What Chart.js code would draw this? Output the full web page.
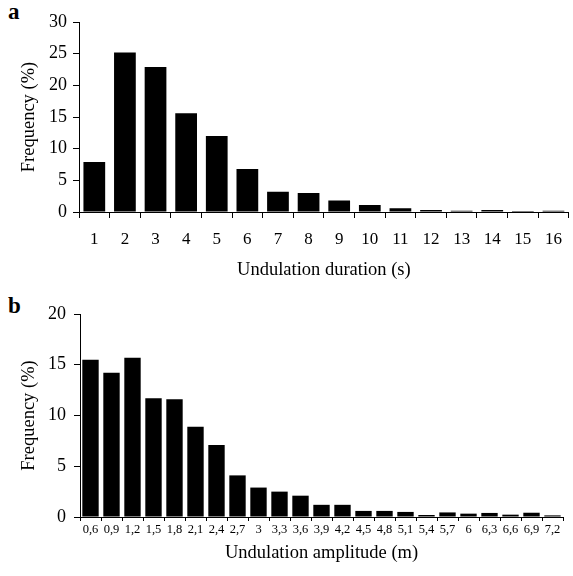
<!DOCTYPE html>
<html>
<head>
<meta charset="utf-8">
<script src="https://cdn.jsdelivr.net/npm/chart.js@4"></script>
<style>
  body { margin: 0; background: #fff; }
  #wrap { position: relative; width: 573px; height: 576px; }
  canvas { position: absolute; left: 0; }
  .tag { position: absolute; left: 8px; font: bold 23px "Liberation Serif", "Times New Roman", serif; line-height: 23px; color: #000; }
</style>
</head>
<body>
<div id="wrap">
  <div class="tag" style="top:0px">a</div>
  <canvas id="chartA" width="573" height="290" style="top:0px"></canvas>
  <div class="tag" style="top:294px">b</div>
  <canvas id="chartB" width="573" height="286" style="top:290px"></canvas>
</div>
<script>
// panel a: undulation duration
const durationLabels = ["1", "2", "3", "4", "5", "6", "7", "8", "9", "10", "11", "12", "13", "14", "15", "16"];
const durationFreq = [7.9, 25.2, 22.9, 15.6, 12.0, 6.8, 3.2, 3.0, 1.8, 1.1, 0.6, 0.3, 0.2, 0.3, 0.15, 0.2];

// panel b: undulation amplitude
const amplitudeLabels = ["0,6", "0,9", "1,2", "1,5", "1,8", "2,1", "2,4", "2,7", "3", "3,3", "3,6", "3,9",
  "4,2", "4,5", "4,8", "5,1", "5,4", "5,7", "6", "6,3", "6,6", "6,9", "7,2"];
const amplitudeFreq = [15.5, 14.2, 15.7, 11.7, 11.6, 8.9, 7.1, 4.1, 2.9, 2.5, 2.1, 1.2,
  1.2, 0.6, 0.6, 0.5, 0.2, 0.45, 0.33, 0.4, 0.23, 0.42, 0.16];

const serif = "'Liberation Serif', 'Times New Roman', serif";

function makeChart(id, labels, values, cfg) {
  new Chart(document.getElementById(id), {
    type: "bar",
    data: {
      labels: labels,
      datasets: [{
        data: values,
        backgroundColor: "#000",
        borderWidth: 0,
        barPercentage: cfg.barPct,
        categoryPercentage: 1.0
      }]
    },
    options: {
      responsive: false,
      animation: false,
      layout: { padding: cfg.padding },
      plugins: { legend: { display: false }, tooltip: { enabled: false } },
      scales: {
        x: {
          grid: { display: true, drawOnChartArea: false, color: "#000", tickLength: cfg.xTickLen, offset: true },
          border: { display: true, color: "#000", width: 1 },
          ticks: {
            color: "#000", font: { family: serif, size: cfg.xFont },
            padding: cfg.xPad, maxRotation: 0, autoSkip: false
          },
          title: {
            display: true, text: cfg.xTitle, color: "#000",
            font: { family: serif, size: 18.5 }, padding: { top: 0, bottom: cfg.xTitlePad }
          },
          afterFit: s => { s.height = cfg.xHeight; }
        },
        y: {
          min: 0, max: cfg.yMax,
          grid: { display: true, drawOnChartArea: false, color: "#000", tickLength: 6 },
          border: { display: true, color: "#000", width: 1 },
          ticks: { stepSize: 5, color: "#000", font: { family: serif, size: 18 }, padding: cfg.yPad },
          title: {
            display: true, text: "Frequency (%)", color: "#000",
            font: { family: serif, size: 18.5 }, padding: { top: 18, bottom: 0 }
          },
          afterFit: s => { s.width = cfg.yWidth; }
        }
      }
    }
  });
}

makeChart("chartA", durationLabels, durationFreq, {
  barPct: 0.71, padding: { top: 22, right: 1, bottom: 0, left: 0 },
  xTickLen: 6, xFont: 17, xPad: 11, xTitle: "Undulation duration (s)", xTitlePad: 9,
  xHeight: 78, yMax: 30, yPad: 6, yWidth: 79
});

makeChart("chartB", amplitudeLabels, amplitudeFreq, {
  barPct: 0.78, padding: { top: 24, right: 10, bottom: 0, left: 0 },
  xTickLen: 4, xFont: 12.5, xPad: 1, xTitle: "Undulation amplitude (m)", xTitlePad: 12,
  xHeight: 59, yMax: 20, yPad: 8, yWidth: 80
});
</script>
</body>
</html>
